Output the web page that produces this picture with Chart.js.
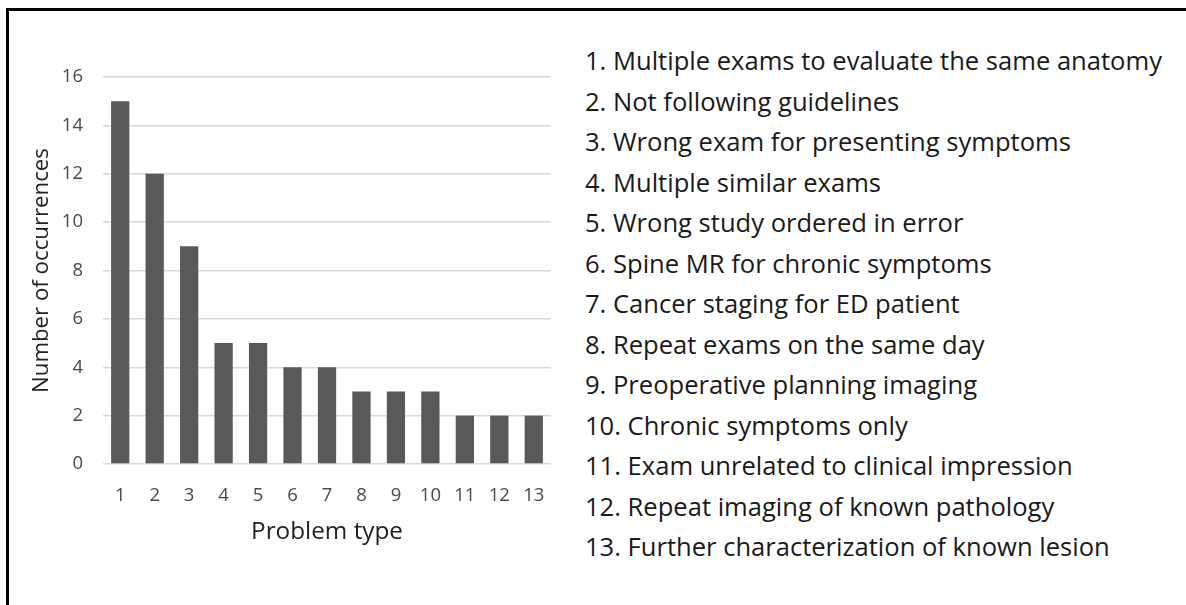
<!DOCTYPE html>
<html lang="en">
<head>
  <meta charset="UTF-8">
  <title>Problem types</title>
  <script src="https://cdn.jsdelivr.net/npm/chart.js"></script>
  <style>
    html, body {
      margin: 0;
      padding: 0;
      background: #fff;
      width: 1186px;
      height: 605px;
      overflow: hidden;
      font-family: "Open Sans", Lato, sans-serif;
    }
    .frame {
      position: absolute;
      left: 6px;
      top: 8px;
      width: 1200px;
      height: 620px;
      border-top: 3px solid #000;
      border-left: 3px solid #000;
    }
    .chart-box {
      position: absolute;
      left: 0;
      top: 0;
      width: 570px;
      height: 605px;
    }
    #legendList {
      position: absolute;
      left: 585px;
      top: 40px;
      margin: 0;
      padding: 0;
      list-style: none;
      color: #1a1a1a;
      font-size: 22px;
      white-space: nowrap;
    }
    #legendList li {
      height: 40.5px;
      line-height: 40.5px;
    }
  </style>
</head>
<body>
  <div class="frame"></div>
  <div class="chart-box"><canvas id="grafico" width="570" height="605"></canvas></div>
  <ul id="legendList"></ul>

  <script>
    const tipos = ["1", "2", "3", "4", "5", "6", "7", "8", "9", "10", "11", "12", "13"];
    const ocorrencias = [15, 12, 9, 5, 5, 4, 4, 3, 3, 3, 2, 2, 2];
    const descricoes = [
      "Multiple exams to evaluate the same anatomy",
      "Not following guidelines",
      "Wrong exam for presenting symptoms",
      "Multiple similar exams",
      "Wrong study ordered in error",
      "Spine MR for chronic symptoms",
      "Cancer staging for ED patient",
      "Repeat exams on the same day",
      "Preoperative planning imaging",
      "Chronic symptoms only",
      "Exam unrelated to clinical impression",
      "Repeat imaging of known pathology",
      "Further characterization of known lesion"
    ];

    const fonte = "'Open Sans', Lato, sans-serif";

    // tamanho de fonte para um texto ocupar uma largura
    const medidor = document.createElement("canvas").getContext("2d");
    function tamanhoPara(texto, largura) {
      medidor.font = "100px " + fonte;
      return 100 * largura / medidor.measureText(texto).width;
    }

    // lista da direita
    const lista = document.getElementById("legendList");
    descricoes.forEach((d, i) => {
      const li = document.createElement("li");
      li.textContent = tipos[i] + ". " + d;
      lista.appendChild(li);
    });
    lista.style.fontSize = tamanhoPara("1. " + descricoes[0], 577).toFixed(2) + "px";

    const ctx = document.getElementById("grafico").getContext("2d");
    const grafico = new Chart(ctx, {
      type: 'bar',
      data: {
        labels: tipos,
        datasets: [{
          label: 'Number of occurrences',
          data: ocorrencias,
          backgroundColor: '#595959',
          barPercentage: 0.53,
          categoryPercentage: 1.0
        }]
      },
      options: {
        responsive: false,
        animation: false,
        layout: {
          padding: { left: 24, top: 77, right: 19, bottom: 54 }
        },
        plugins: {
          legend: { display: false },
          tooltip: { enabled: false }
        },
        scales: {
          x: {
            grid: { display: false, drawTicks: false },
            border: { display: false },
            ticks: {
              padding: 21,
              color: '#4a4a4a',
              font: { family: fonte, size: 18.5 }
            },
            title: {
              display: true,
              text: 'Problem type',
              color: '#222',
              font: { family: fonte, size: tamanhoPara('Problem type', 152) }
            },
            afterFit: (scale) => { scale.height = 87; }
          },
          y: {
            min: 0,
            max: 16,
            grid: { color: '#d9d9d9', lineWidth: 1.5, drawTicks: false },
            border: { display: false },
            ticks: {
              stepSize: 2,
              padding: 20,
              color: '#4a4a4a',
              font: { family: fonte, size: 18.5 }
            },
            title: {
              display: true,
              text: 'Number of occurrences',
              color: '#222',
              font: { family: fonte, size: tamanhoPara('Number of occurrences', 245) }
            },
            afterFit: (scale) => { scale.width = 79; }
          }
        }
      }
    });
  </script>
</body>
</html>
